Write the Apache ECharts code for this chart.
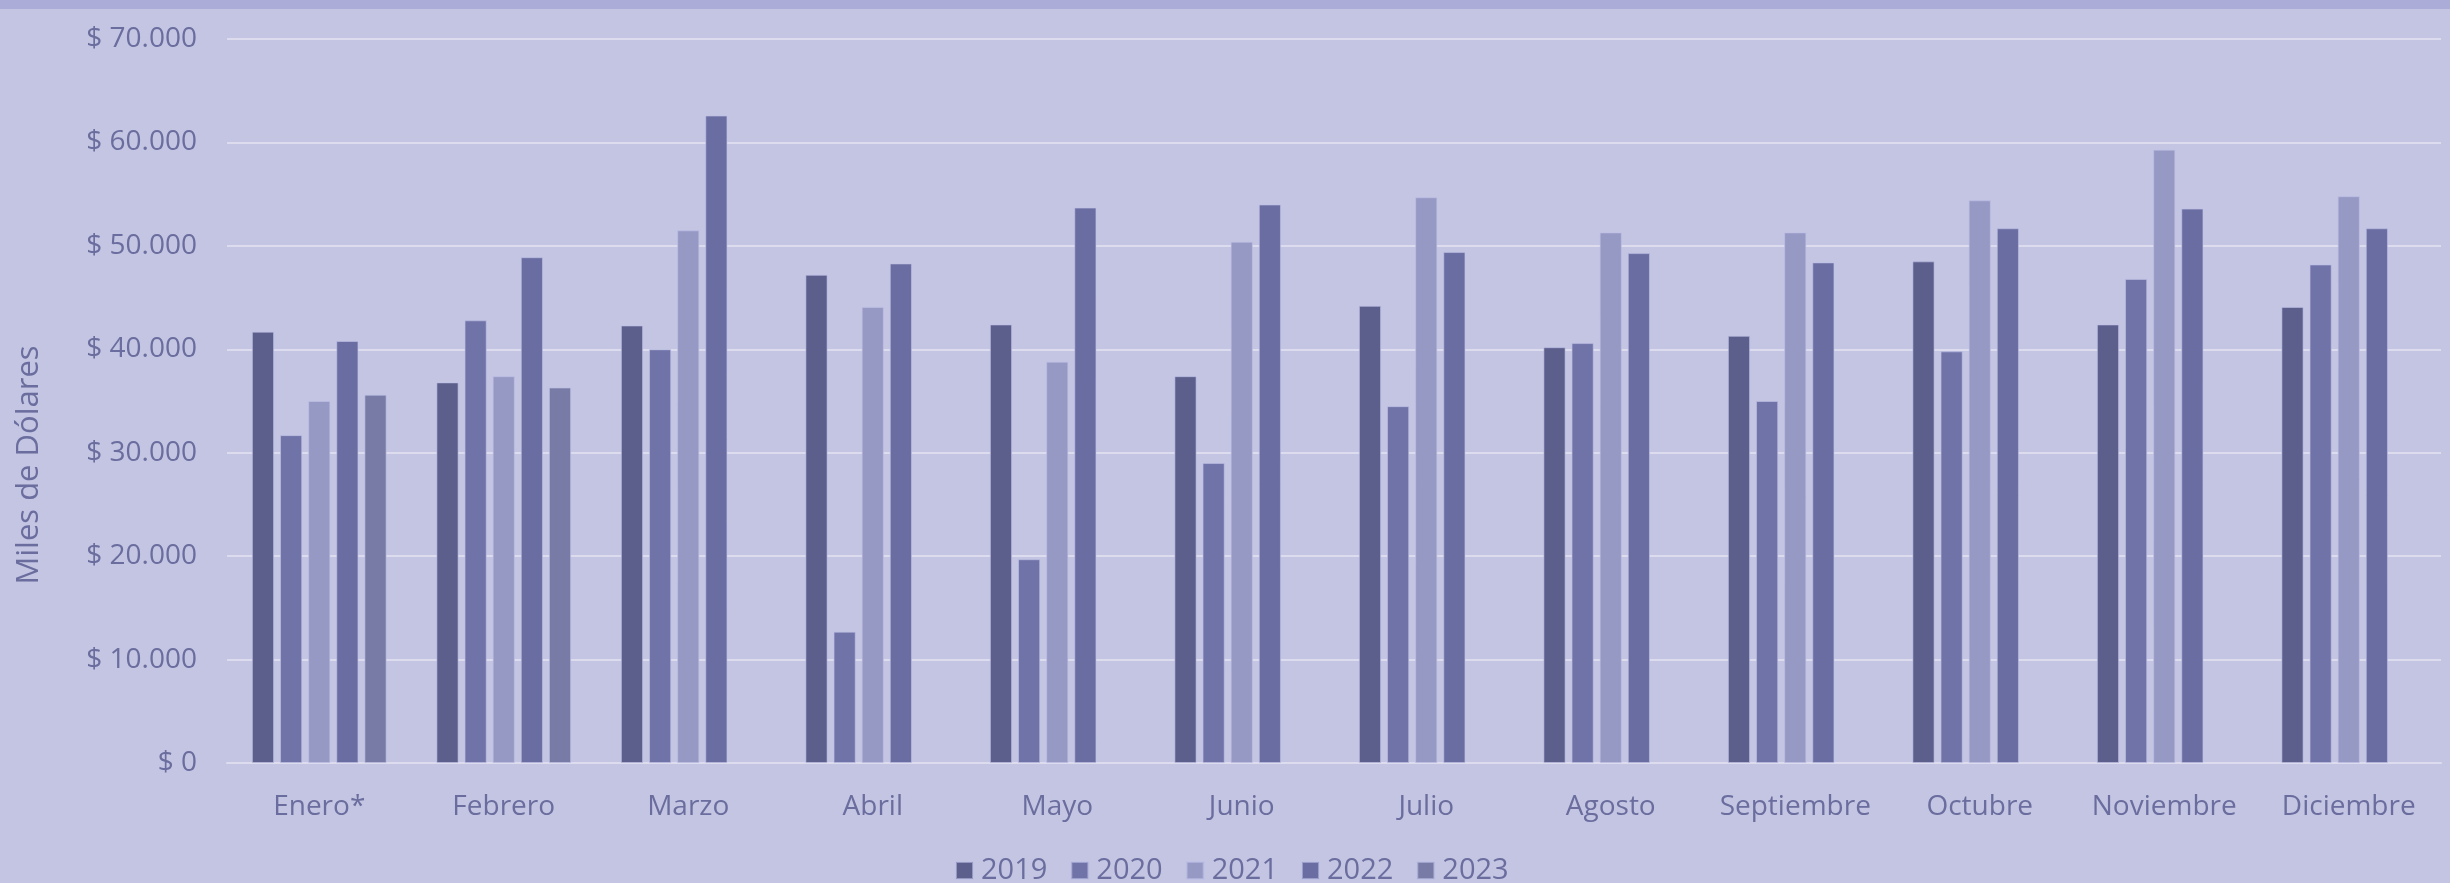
<!DOCTYPE html>
<html>
<head>
<meta charset="utf-8">
<script src="https://cdn.jsdelivr.net/npm/echarts@6/dist/echarts.min.js"></script>
<style>
  html, body { margin: 0; padding: 0; background: #c4c5e3; }
  #chart { width: 2450px; height: 883px; }
</style>
</head>
<body>
<div id="chart"></div>
<script>
var months = ['Enero*', 'Febrero', 'Marzo', 'Abril', 'Mayo', 'Junio', 'Julio', 'Agosto', 'Septiembre', 'Octubre', 'Noviembre', 'Diciembre'];
var years = ['2019', '2020', '2021', '2022', '2023'];

var data2019 = [41700, 36800, 42300, 47200, 42400, 37400, 44200, 40200, 41300, 48500, 42400, 44100];
var data2020 = [31700, 42800, 40000, 12700, 19700, 29000, 34500, 40600, 35000, 39800, 46800, 48200];
var data2021 = [35000, 37400, 51500, 44100, 38800, 50400, 54700, 51300, 51300, 54400, 59300, 54800];
var data2022 = [40800, 48900, 62600, 48300, 53700, 54000, 49400, 49300, 48400, 51700, 53600, 51700];
var data2023 = [35600, 36300, null, null, null, null, null, null, null, null, null, null];

var yTicks = [0, 10000, 20000, 30000, 40000, 50000, 60000, 70000];

var colors = ['#5c5e8c', '#7073a8', '#9799c5', '#6a6da1', '#777ba5'];
var textColor = '#6a6d9d';
var font = 'Open Sans';

function money(v) {
    return '$ ' + String(v).replace(/\B(?=(\d{3})+(?!\d))/g, '.');
}

var myChart = echarts.init(document.getElementById('chart'));
var seriesData = [data2019, data2020, data2021, data2022, data2023];

var option = {
    backgroundColor: '#c4c5e3',
    animation: false,
    textStyle: { fontFamily: font },
    graphic: [{
        type: 'rect',
        left: 0,
        top: 0,
        shape: { width: 2450, height: 9 },
        style: { fill: '#abacd8' }
    }],
    grid: {
        left: 227,
        right: 9,
        top: 39,
        bottom: 120,
        containLabel: false
    },
    legend: {
        data: years,
        top: 851,
        left: 950,
        itemWidth: 17,
        itemHeight: 17,
        itemGap: 23,
        icon: 'rect',
        textStyle: {
            color: textColor,
            fontSize: 29,
            fontFamily: font,
            padding: [0, 0, 0, 3]
        }
    },
    xAxis: {
        type: 'category',
        data: months,
        axisTick: { show: false },
        axisLine: { lineStyle: { color: '#dcdcee', width: 2 } },
        axisLabel: {
            interval: 0,
            color: textColor,
            fontSize: 28,
            fontFamily: font,
            margin: 30
        }
    },
    yAxis: {
        type: 'value',
        min: yTicks[0],
        max: yTicks[yTicks.length - 1],
        interval: 10000,
        name: 'Miles de Dólares',
        nameLocation: 'middle',
        nameGap: 182,
        nameRotate: 90,
        nameTextStyle: {
            color: textColor,
            fontSize: 31,
            fontFamily: font,
            padding: [0, 128, 0, 0]
        },
        axisLine: { show: false },
        axisTick: { show: false },
        splitLine: { lineStyle: { color: '#dcdcee', width: 2 } },
        axisLabel: {
            color: textColor,
            fontSize: 28,
            fontFamily: font,
            margin: 30,
            formatter: money
        }
    },
    series: years.map(function (y, i) {
        return {
            name: y,
            type: 'bar',
            data: seriesData[i],
            barGap: '27%',
            barCategoryGap: '27%',
            itemStyle: {
                color: colors[i],
                borderColor: 'rgba(190,192,230,0.6)',
                borderWidth: 1
            }
        };
    })
};
myChart.setOption(option, true);
</script>
</body>
</html>
